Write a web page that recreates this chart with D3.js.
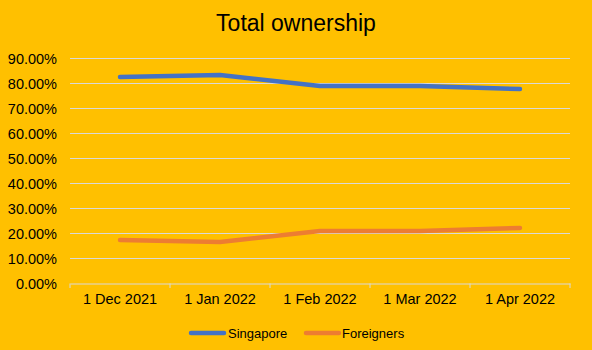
<!DOCTYPE html>
<html><head><meta charset="utf-8">
<script src="https://cdn.jsdelivr.net/npm/d3@7"></script>
<style>body{margin:0;background:#FFC000;}svg{display:block;}</style>
</head><body>
<script>
const categories = ["1 Dec 2021","1 Jan 2022","1 Feb 2022","1 Mar 2022","1 Apr 2022"];
const singapore = [0.826, 0.834, 0.790, 0.790, 0.778];
const foreigners = [0.174, 0.166, 0.210, 0.210, 0.222];
const yTicks = [0,0.1,0.2,0.3,0.4,0.5,0.6,0.7,0.8,0.9];
const seriesNames = ["Singapore","Foreigners"];
const colors = ["#4472C4","#ED7D31"];

const W=592,H=350;
const FONT="Liberation Sans, Arial, sans-serif";
const svg=d3.select("body").append("svg").attr("width",W).attr("height",H);
svg.append("rect").attr("width",W).attr("height",H).attr("fill","#FFC000");
svg.append("text").attr("x",296).attr("y",31).attr("text-anchor","middle")
  .attr("font-family",FONT).attr("font-size",23).attr("fill","#000").text("Total ownership");

const x=d3.scaleBand().domain(categories).range([70,570]);
const y=d3.scaleLinear().domain([0,0.9]).range([283.5,58.5]);

const g=svg.append("g");
g.selectAll("line.grid").data(yTicks.slice(1)).join("line")
  .attr("x1",70).attr("x2",570).attr("y1",d=>y(d)).attr("y2",d=>y(d))
  .attr("stroke","#D9D9D9").attr("stroke-width",1);

const yAxis=svg.append("g").attr("transform","translate(70,0)")
  .call(d3.axisLeft(y).tickValues(yTicks).tickFormat(d3.format(".2%")).tickSize(0).tickPadding(13));
yAxis.select(".domain").remove();
yAxis.selectAll("text").attr("font-family",FONT).attr("font-size",14.5).attr("fill","#000");

const xAxis=svg.append("g").attr("transform","translate(0,283.5)")
  .call(d3.axisBottom(x).tickSize(0).tickPadding(10));
xAxis.select(".domain").attr("stroke","#D9D9D9");
xAxis.selectAll("text").attr("font-family",FONT).attr("font-size",14.5).attr("fill","#000");
const bounds=[...categories.map(c=>x(c)),570];
svg.append("g").selectAll("line").data(bounds).join("line")
  .attr("x1",d=>d).attr("x2",d=>d).attr("y1",283.5).attr("y2",288)
  .attr("stroke","#D9D9D9");

const line=d3.line().x((d,i)=>x(categories[i])+x.bandwidth()/2).y(d=>y(d));
[singapore,foreigners].forEach((s,i)=>{
  svg.append("path").attr("d",line(s)).attr("fill","none").attr("stroke",colors[i])
    .attr("stroke-width",4.5).attr("stroke-linecap","round").attr("stroke-linejoin","round");
});

const leg=[{x:191,tx:228},{x:306,tx:342}];
seriesNames.forEach((n,i)=>{
  svg.append("line").attr("x1",leg[i].x).attr("x2",leg[i].x+33).attr("y1",333).attr("y2",333)
    .attr("stroke",colors[i]).attr("stroke-width",4.5).attr("stroke-linecap","round");
  svg.append("text").attr("x",leg[i].tx).attr("y",337.5).attr("font-family",FONT)
    .attr("font-size",13).attr("fill","#000").text(n);
});
</script>
</body></html>
